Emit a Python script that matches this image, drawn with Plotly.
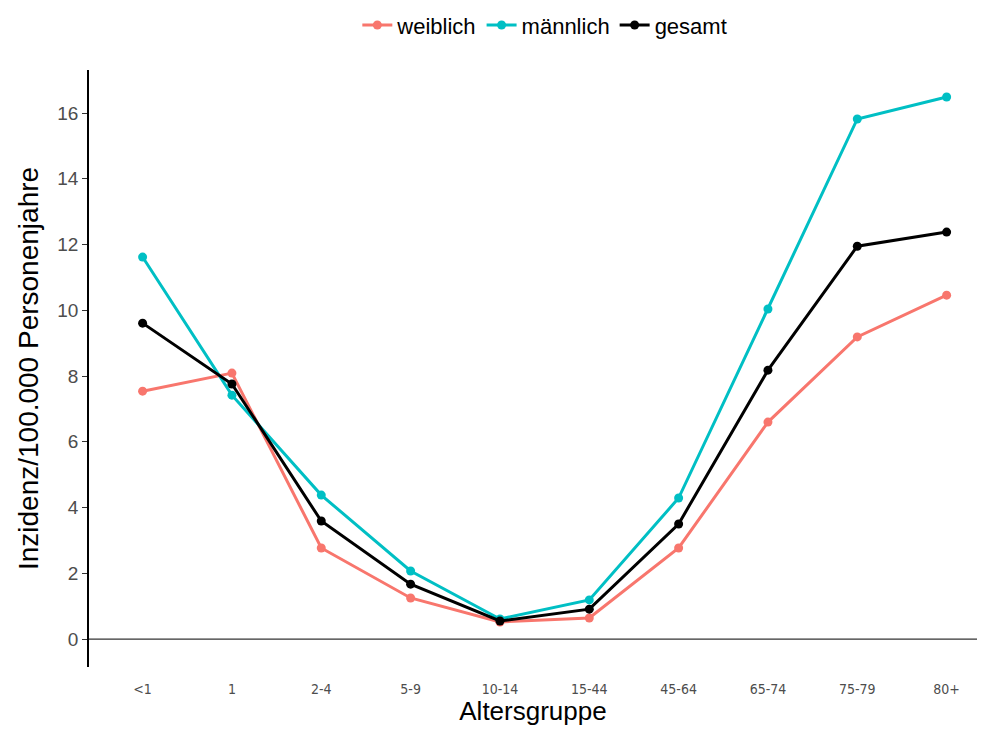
import plotly.graph_objects as go

categories = ["<1", "1", "2-4", "5-9", "10-14", "15-44", "45-64", "65-74", "75-79", "80+"]
weiblich = [7.54, 8.09, 2.77, 1.25, 0.52, 0.64, 2.77, 6.60, 9.19, 10.46]
maennlich = [11.62, 7.42, 4.38, 2.07, 0.61, 1.19, 4.29, 10.04, 15.82, 16.49]
gesamt = [9.61, 7.76, 3.59, 1.67, 0.55, 0.91, 3.50, 8.18, 11.95, 12.38]

series = [("weiblich", weiblich, "#F8766D"), ("männlich", maennlich, "#00BFC4"), ("gesamt", gesamt, "#000000")]

fig = go.Figure()
idx = list(range(len(categories)))
for name, vals, col in series:
    fig.add_trace(go.Scatter(x=idx, y=vals, mode="lines+markers", name=name,
                             line=dict(color=col, width=3), marker=dict(color=col, size=9)))

fig.add_shape(type="line", xref="paper", x0=0, x1=1, yref="y", y0=0, y1=0,
              line=dict(color="#333333", width=1.2), layer="below")

font = "Liberation Sans, Arial, sans-serif"
narrow = "DejaVu Sans Condensed, Liberation Sans Narrow, Liberation Sans, sans-serif"
fig.update_layout(
    width=969, height=718,
    margin=dict(l=81, r=0, t=62, b=59, autoexpand=False),
    plot_bgcolor="white", paper_bgcolor="white",
    font=dict(family=font, color="#000000"),
    showlegend=True,
    legend=dict(orientation="h", xref="container", yref="container",
                x=0.554, xanchor="center", y=0.976, yanchor="middle",
                font=dict(size=22, color="#000000"), traceorder="normal"),
    xaxis=dict(range=[-0.6, 9.34], tickmode="array", tickvals=idx, ticktext=categories,
               showgrid=False, zeroline=False, showline=False,
               ticks="outside", ticklen=9, tickcolor="rgba(0,0,0,0)",
               tickfont=dict(size=14, color="#4d4d4d", family=narrow),
               title=dict(text="Altersgruppe", font=dict(size=26, color="#000000"), standoff=13)),
    yaxis=dict(range=[-0.85, 17.31], tickvals=[0, 2, 4, 6, 8, 10, 12, 14, 16],
               showgrid=False, zeroline=False, showline=True, linecolor="#000000", linewidth=1.5,
               ticks="outside", ticklen=5, tickcolor="#333333",
               tickfont=dict(size=19, color="#4d4d4d"),
               title=dict(text="Inzidenz/100.000 Personenjahre", font=dict(size=28, color="#000000"), standoff=11)),
)

fig.write_html("out.html")
